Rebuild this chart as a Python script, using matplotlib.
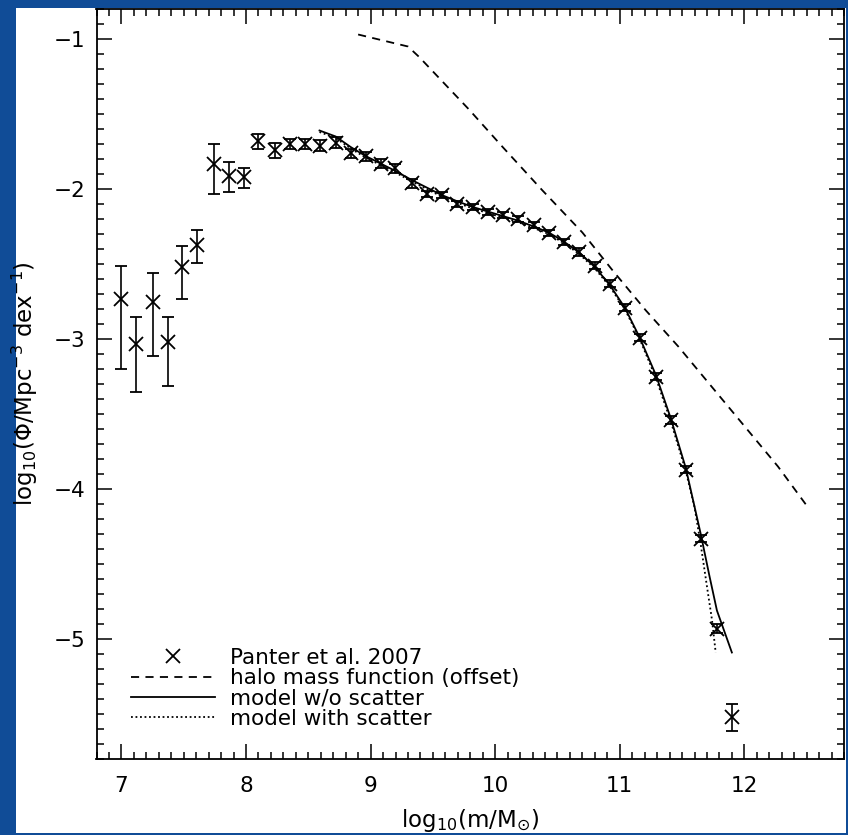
import numpy as np
import matplotlib
matplotlib.use('Agg')
import matplotlib.pyplot as plt
from matplotlib.lines import Line2D
from matplotlib.patches import Rectangle
from matplotlib.ticker import MultipleLocator

plt.rcParams['font.family'] = 'DejaVu Sans'
plt.rcParams['mathtext.default'] = 'regular'

# Panter et al. 2007 points
logm = [7.00, 7.12, 7.25, 7.37, 7.49, 7.61, 7.74, 7.86, 7.98, 8.10,
        8.23, 8.35, 8.47, 8.59, 8.72, 8.84, 8.96, 9.08, 9.20, 9.33,
        9.45, 9.57, 9.69, 9.82, 9.94, 10.06, 10.18, 10.31, 10.43, 10.55,
        10.67, 10.80, 10.92, 11.04, 11.16, 11.29, 11.41, 11.53, 11.65, 11.78,
        11.90]
logphi = [-2.73, -3.03, -2.75, -3.02, -2.52, -2.37, -1.83, -1.91, -1.92, -1.68,
          -1.74, -1.70, -1.70, -1.71, -1.69, -1.76, -1.78, -1.83, -1.86, -1.96,
          -2.03, -2.04, -2.10, -2.12, -2.15, -2.17, -2.20, -2.24, -2.29, -2.35,
          -2.42, -2.51, -2.63, -2.79, -2.99, -3.25, -3.54, -3.87, -4.33, -4.93,
          -5.52]
err_lo = [0.47, 0.32, 0.36, 0.29, 0.21, 0.12, 0.20, 0.11, 0.07, 0.05,
          0.05, 0.035, 0.035, 0.035, 0.035, 0.03, 0.03, 0.03, 0.03, 0.03,
          0.02, 0.02, 0.02, 0.02, 0.02, 0.02, 0.02, 0.02, 0.02, 0.02,
          0.025, 0.025, 0.025, 0.025, 0.025, 0.025, 0.025, 0.025, 0.025, 0.03,
          0.09]
err_hi = [0.22, 0.18, 0.19, 0.17, 0.14, 0.10, 0.13, 0.09, 0.06, 0.05,
          0.05, 0.035, 0.035, 0.035, 0.035, 0.03, 0.03, 0.03, 0.03, 0.03,
          0.02, 0.02, 0.02, 0.02, 0.02, 0.02, 0.02, 0.02, 0.02, 0.02,
          0.025, 0.025, 0.025, 0.025, 0.025, 0.025, 0.025, 0.025, 0.025, 0.03,
          0.09]

# halo mass function (offset)
halo_m = [8.90, 9.10, 9.30, 9.39, 9.47, 9.63, 9.79, 10.06, 10.38, 10.70,
          10.94, 11.21, 11.47, 11.74, 12.01, 12.27, 12.50]
halo_phi = [-0.97, -1.01, -1.05, -1.12, -1.19, -1.33, -1.47, -1.72, -2.01, -2.29,
            -2.54, -2.81, -3.05, -3.32, -3.59, -3.85, -4.11]

# model without scatter
mod_m = [8.59, 8.72, 8.84, 8.96, 9.08, 9.20, 9.33, 9.45, 9.57, 9.69,
         9.82, 9.94, 10.06, 10.18, 10.31, 10.43, 10.55, 10.67, 10.80, 10.92,
         11.04, 11.16, 11.29, 11.41, 11.53, 11.65, 11.72, 11.78, 11.90]
mod_phi = [-1.61, -1.65, -1.72, -1.78, -1.83, -1.88, -1.94, -1.99, -2.04, -2.08,
           -2.12, -2.15, -2.18, -2.21, -2.25, -2.29, -2.35, -2.42, -2.52, -2.64,
           -2.79, -2.99, -3.24, -3.53, -3.86, -4.30, -4.58, -4.81, -5.09]

# model with scatter
sc_m = [8.59, 8.72, 8.84, 8.96, 9.08, 9.20, 9.33, 9.45, 9.57, 9.69,
        9.82, 9.94, 10.06, 10.18, 10.31, 10.43, 10.55, 10.67, 10.80, 10.92,
        11.04, 11.16, 11.29, 11.41, 11.53, 11.60, 11.65, 11.70, 11.74, 11.77]
sc_phi = [-1.62, -1.66, -1.73, -1.79, -1.84, -1.89, -1.95, -2.00, -2.05, -2.09,
          -2.13, -2.16, -2.19, -2.22, -2.26, -2.30, -2.36, -2.43, -2.53, -2.65,
          -2.80, -3.00, -3.26, -3.55, -3.88, -4.12, -4.37, -4.65, -4.87, -5.09]

fig = plt.figure(figsize=(8.48, 8.35), dpi=100)
fig.patch.set_facecolor('#104c97')
fig.patches.append(Rectangle((16/848, 2/835), 830/848, 825/835, transform=fig.transFigure,
                             facecolor='white', edgecolor='none', zorder=-10))

ax = fig.add_axes([96.5/848, 76/835, 747.5/848, 750/835])
ax.set_facecolor('white')

ax.errorbar(logm, logphi, yerr=[err_lo, err_hi], fmt='x', color='black',
            ms=10, mew=1.3, elinewidth=1.2, capsize=4, capthick=1.2)
hl, = ax.plot(halo_m, halo_phi, color='black', lw=1.3)
hl.set_dashes([4.5, 3.5])
ax.plot(mod_m, mod_phi, color='black', lw=1.3)
ax.plot(sc_m, sc_phi, color='black', lw=1.3, ls=(0, (1, 1.5)))

ax.set_xlim(6.8, 12.8)
ax.set_ylim(-5.8, -0.8)
ax.xaxis.set_major_locator(MultipleLocator(1))
ax.xaxis.set_minor_locator(MultipleLocator(0.1))
ax.yaxis.set_major_locator(MultipleLocator(1))
ax.yaxis.set_minor_locator(MultipleLocator(0.1))
ax.tick_params(which='both', direction='in', top=True, right=True, width=1.1,
               labelsize=15.5, colors='black')
ax.tick_params(which='major', length=11)
ax.tick_params(axis='x', which='major', pad=12)
ax.tick_params(axis='y', which='major', pad=8)
ax.tick_params(which='minor', length=5)
ax.set_yticks([-1, -2, -3, -4, -5])
ax.set_yticklabels(['\u22121', '\u22122', '\u22123', '\u22124', '\u22125'])
for s in ax.spines.values():
    s.set_linewidth(1.3)

ax.set_xlabel('log$_{10}$(m/M$_{\\odot}$)', fontsize=16.5, labelpad=8)
ax.set_ylabel('log$_{10}$($\\Phi$/Mpc$^{-3}$ dex$^{-1}$)', fontsize=16.5, labelpad=10)

handles = [
    Line2D([], [], ls='none', marker='x', color='black', ms=10, mew=1.3),
    Line2D([], [], color='black', lw=1.3, dashes=[4.5, 3.5]),
    Line2D([], [], color='black', lw=1.3),
    Line2D([], [], color='black', lw=1.3, ls=(0, (1, 1.5))),
]
labels = ['Panter et al. 2007', 'halo mass function (offset)',
          'model w/o scatter', 'model with scatter']
ax.legend(handles, labels, loc='lower left', bbox_to_anchor=(0.046, 0.04),
          frameon=False, fontsize=15.5, handlelength=3.9, handletextpad=0.7,
          labelspacing=0.02, borderpad=0, borderaxespad=0)

fig.savefig('out.png', dpi=100, facecolor=fig.get_facecolor())
